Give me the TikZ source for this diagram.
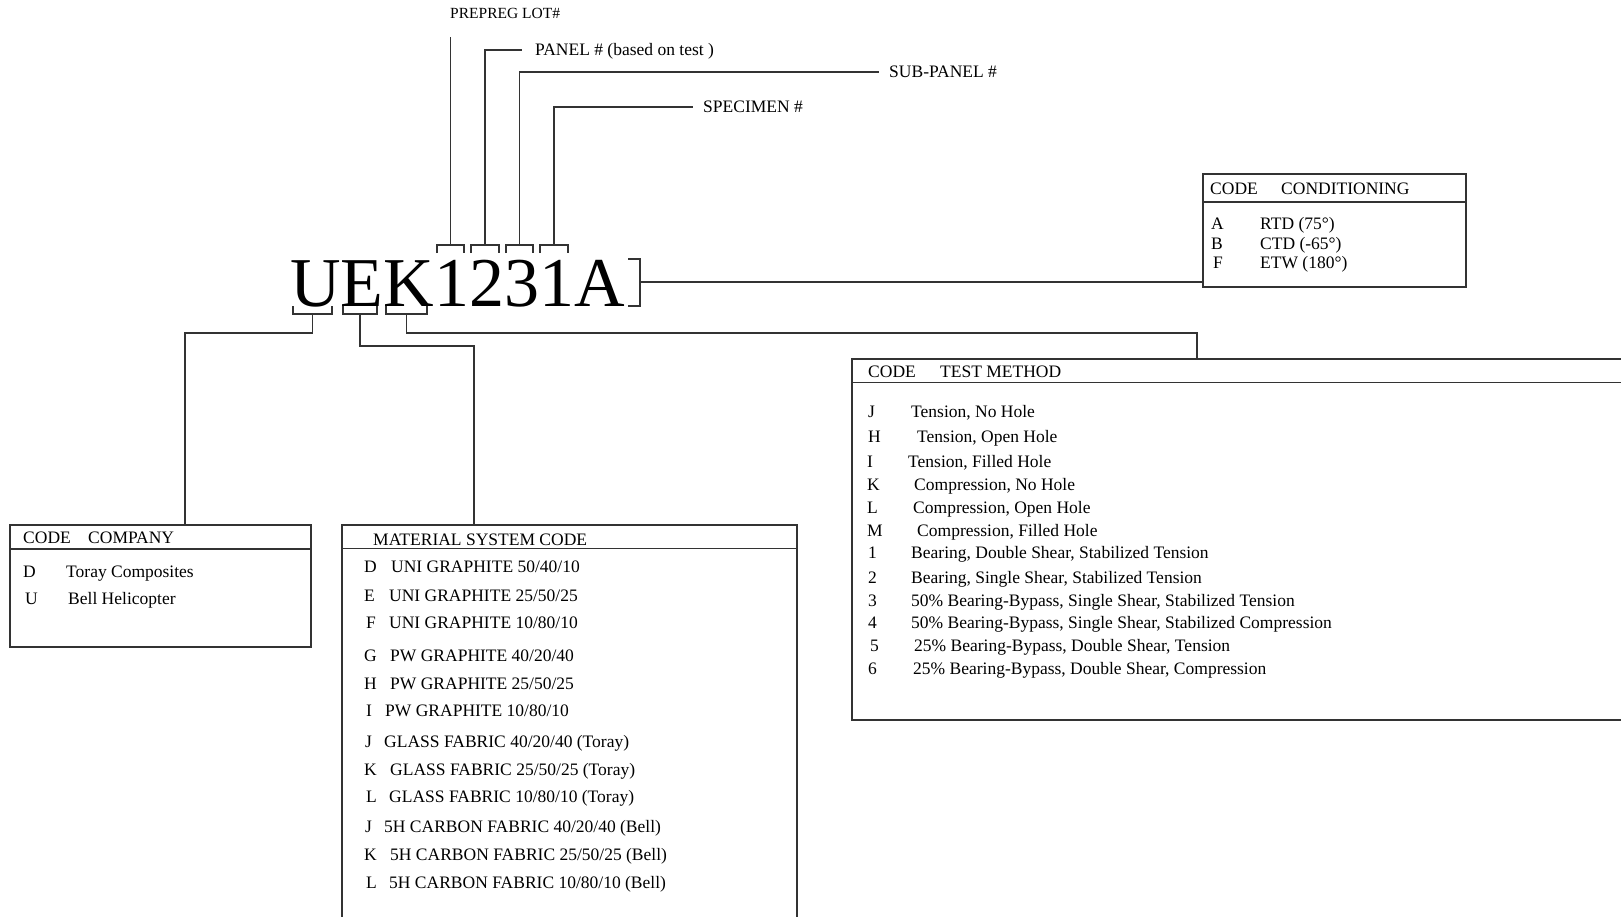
\documentclass[tikz,border=0pt]{standalone}
\usepackage{fontspec}
\setmainfont{Liberation Serif}
\usetikzlibrary{positioning}
\definecolor{inkgrey}{HTML}{333333}

\tikzset{
  lbl/.style={anchor=west, inner sep=0pt, text height=11.6pt, text depth=0pt, font=\fontsize{17.5}{20}\selectfont},
  smalllbl/.style={lbl, text height=10.3pt, font=\fontsize{15.5}{18}\selectfont},
  conn/.style={draw=inkgrey, line width=1.1pt},
  tablebox/.style={draw=inkgrey, line width=1.5pt, inner sep=0pt, anchor=north west},
}

\begin{document}
\begin{tikzpicture}[x=1pt, y=-1pt]
\useasboundingbox (0,0) rectangle (1621,916);

% part number and its brackets
\node[anchor=base west, inner sep=0pt, font=\fontsize{70}{71}\selectfont] (code) at (290,306) {UEK1231A};
\foreach \c/\xa/\xb in {lot/437/464, pnl/471/499, sub/506/533, spc/540/568} {
  \draw[conn] (\xa,253) -- (\xa,245) -- (\xb,245) -- (\xb,253);
  \coordinate (\c) at ({(\xa+\xb)/2},245);
}
\foreach \c/\xa/\xb in {coU/293/332, coE/343/377, coK/386/427} {
  \draw[conn] (\xa,306) -- (\xa,314) -- (\xb,314) -- (\xb,306);
  \coordinate (\c) at ({(\xa+\xb)/2},314);
}
\draw[conn] (628,259) -- (640,259) -- (640,306) -- (628,306);
\coordinate (cond) at (640,282);

% upper labels
\node[smalllbl] (lotlbl) at (450,13) {PREPREG LOT\#};
\node[lbl] (pnllbl) at (535,50) {PANEL \# (based on test )};
\node[lbl] (sublbl) at (889,72) {SUB-PANEL \#};
\node[lbl] (spclbl) at (703,107) {SPECIMEN \#};
\draw[conn] (lot) -- ([yshift=-19pt]lotlbl.south -| lot);
\draw[conn] (pnl) |- ([xshift=-13pt]pnllbl.west);
\draw[conn] (sub) |- ([xshift=-10pt]sublbl.west);
\draw[conn] (spc) |- ([xshift=-10pt]spclbl.west);

% conditioning
\node[tablebox, minimum width=263pt, minimum height=113pt] (condbox) at (1202,173) {};
\draw[conn] ([yshift=-29pt]condbox.north west) -- ([yshift=-29pt]condbox.north east);
\node[lbl] (condcode) at (1210,189) {CODE};
\node[lbl] (condhead) at (1281,189) {CONDITIONING};
\foreach \k/\t/\y/\xk in {A/RTD (75°)/224/1211, B/CTD (-65°)/244/1211, F/ETW (180°)/263/1213} {
  \node[lbl] (ck\k) at (\xk,\y) {\k};
  \node[lbl] (ct\k) at (1260,\y) {\t};
}
\draw[conn] (cond) -- (cond -| condbox.west);

% company
\node[tablebox, minimum width=301pt, minimum height=122pt] (compbox) at (9,524) {};
\draw[conn] ([yshift=-25pt]compbox.north west) -- ([yshift=-25pt]compbox.north east);
\node[lbl] (compcode) at (23,538) {CODE};
\node[lbl] (comphead) at (88,538) {COMPANY};
\foreach \k/\t/\y/\xk/\xt in {D/Toray Composites/572/23/66, U/Bell Helicopter/599/25/68} {
  \node[lbl] (pk\k) at (\xk,\y) {\k};
  \node[lbl] (pt\k) at (\xt,\y) {\t};
}
\draw[conn] (coU) -- ++(0,19) -| ([xshift=176pt]compbox.north west);

% material system
\node[tablebox, minimum width=455pt, minimum height=420pt] (matbox) at (341,524) {};
\draw[conn] ([yshift=-24.5pt]matbox.north west) -- ([yshift=-24.5pt]matbox.north east);
\node[lbl] (mathead) at (373,540) {MATERIAL SYSTEM CODE};
\foreach \k/\t/\y/\xk/\xt [count=\i] in {
    D/{UNI GRAPHITE 50/40/10}/567/364/391,
    E/{UNI GRAPHITE 25/50/25}/596/364/389,
    F/{UNI GRAPHITE 10/80/10}/623/366/389,
    G/{PW GRAPHITE 40/20/40}/656/364/390,
    H/{PW GRAPHITE 25/50/25}/684/364/390,
    I/{PW GRAPHITE 10/80/10}/711/366/385,
    J/{GLASS FABRIC 40/20/40 (Toray)}/742/365/384,
    K/{GLASS FABRIC 25/50/25 (Toray)}/770/364/390,
    L/{GLASS FABRIC 10/80/10 (Toray)}/797/366/389,
    J/{5H CARBON FABRIC 40/20/40 (Bell)}/827/365/384,
    K/{5H CARBON FABRIC 25/50/25 (Bell)}/855/364/390,
    L/{5H CARBON FABRIC 10/80/10 (Bell)}/883/366/389} {
  \node[lbl] (mk\i) at (\xk,\y) {\k};
  \node[lbl] (mt\i) at (\xt,\y) {\t};
}
\draw[conn] (coE) -- ++(0,32) -| ([xshift=133pt]matbox.north west);

% test method
\node[tablebox, minimum width=800pt, minimum height=361pt] (testbox) at (851,358) {};
\draw[conn] ([yshift=-24.5pt]testbox.north west) -- ([yshift=-24.5pt]testbox.north east);
\node[lbl] (testcode) at (868,372) {CODE};
\node[lbl] (testhead) at (940,372) {TEST METHOD};
\foreach \k/\t/\y/\xk/\xt [count=\i] in {
    J/{Tension, No Hole}/411.5/868/911,
    H/{Tension, Open Hole}/437/868/917,
    I/{Tension, Filled Hole}/462/867/908,
    K/{Compression, No Hole}/485/867/914,
    L/{Compression, Open Hole}/507.6/867/913,
    M/{Compression, Filled Hole}/531/867/917,
    1/{Bearing, Double Shear, Stabilized Tension}/553/868/911,
    2/{Bearing, Single Shear, Stabilized Tension}/578/868/911,
    3/{50\% Bearing-Bypass, Single Shear, Stabilized Tension}/600.6/868/911,
    4/{50\% Bearing-Bypass, Single Shear, Stabilized Compression}/623/868/911,
    5/{25\% Bearing-Bypass, Double Shear, Tension}/646/870/914,
    6/{25\% Bearing-Bypass, Double Shear, Compression}/669/868/913} {
  \node[lbl] (tk\i) at (\xk,\y) {\k};
  \node[lbl] (tt\i) at (\xt,\y) {\t};
}
\draw[conn] (coK) -- ++(0,19) -| ([xshift=346pt]testbox.north west);
\end{tikzpicture}
\end{document}
